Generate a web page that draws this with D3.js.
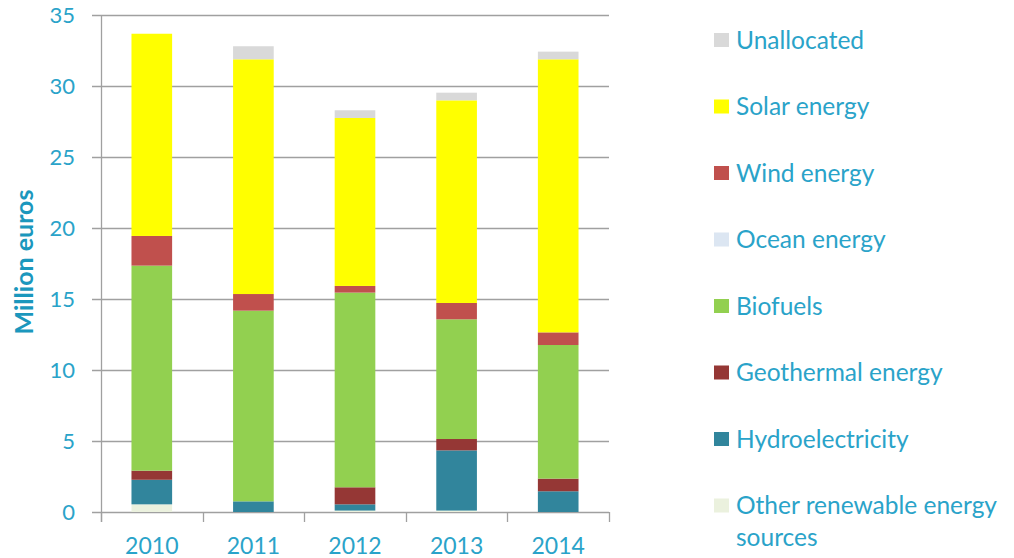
<!DOCTYPE html>
<html>
<head>
<meta charset="utf-8">
<script src="https://cdn.jsdelivr.net/npm/d3@7"></script>
<style>
  body { margin: 0; background: #fff; }
  text { font-family: Lato, "Open Sans", sans-serif; fill: #2aa3c9; }
</style>
</head>
<body>
<div id="chart"></div>
<script>
// data (million euros)
var years = ["2010", "2011", "2012", "2013", "2014"];
var seriesNames = ["Other renewable energy sources", "Hydroelectricity", "Geothermal energy",
  "Biofuels", "Ocean energy", "Wind energy", "Solar energy", "Unallocated"];
var otherRenewable = [0.54, 0, 0.1, 0.1, 0];
var hydro = [1.73, 0.75, 0.44, 4.24, 1.46];
var geothermal = [0.64, 0, 1.2, 0.8, 0.89];
var biofuels = [14.44, 13.43, 13.71, 8.43, 9.41];
var ocean = [0, 0, 0, 0, 0];
var wind = [2.09, 1.17, 0.47, 1.15, 0.89];
var solar = [14.24, 16.53, 11.83, 14.27, 19.23];
var unallocated = [0, 0.92, 0.54, 0.54, 0.54];
var yTicks = [0, 5, 10, 15, 20, 25, 30, 35];

var colors = ["#ebf1de", "#31859c", "#953735", "#92d050", "#dce6f2", "#c0504d", "#ffff00", "#d9d9d9"];
var allSeries = [otherRenewable, hydro, geothermal, biofuels, ocean, wind, solar, unallocated];

var rows = years.map(function(y, i) {
  var r = { year: y };
  seriesNames.forEach(function(n, j) { r[n] = allSeries[j][i]; });
  return r;
});

var width = 1014, height = 558;
var svg = d3.select("#chart").append("svg")
  .attr("width", width)
  .attr("height", height);

var x = d3.scaleBand().domain(years).range([101, 609]).paddingInner(0.6).paddingOuter(0.3);
var y = d3.scaleLinear().domain([0, 35]).range([512, 15]);

// gridlines
svg.append("g").selectAll("line")
  .data(yTicks)
  .enter().append("line")
  .attr("x1", 92).attr("x2", 609)
  .attr("y1", function(d) { return Math.round(y(d)) + 0.5; })
  .attr("y2", function(d) { return Math.round(y(d)) + 0.5; })
  .attr("stroke", "#a0a0a0")
  .attr("stroke-width", 1.3);

// y tick labels
svg.append("g").selectAll("text")
  .data(yTicks)
  .enter().append("text")
  .attr("x", 75)
  .attr("y", function(d) { return y(d); })
  .attr("dy", "0.35em")
  .attr("text-anchor", "end")
  .style("font-size", "22px")
  .text(function(d) { return d; });

// stacked bars
var stack = d3.stack().keys(seriesNames);
var layers = stack(rows);

svg.append("g").selectAll("g")
  .data(layers)
  .enter().append("g")
  .attr("fill", function(d, i) { return colors[i]; })
  .selectAll("rect")
  .data(function(d) { return d; })
  .enter().append("rect")
  .attr("x", function(d) { return x(d.data.year); })
  .attr("width", x.bandwidth())
  .attr("y", function(d) { return y(d[1]); })
  .attr("height", function(d) { return y(d[0]) - y(d[1]); });

// axis lines
svg.append("line")
  .attr("x1", 101.5).attr("x2", 101.5)
  .attr("y1", 15).attr("y2", 522)
  .attr("stroke", "#a0a0a0").attr("stroke-width", 1.3);

var edges = [101].concat(years.map(function(d) { return x(d) + x.bandwidth() + (x.step() - x.bandwidth()) / 2; }));
svg.append("g").selectAll("line")
  .data(edges)
  .enter().append("line")
  .attr("x1", function(d) { return Math.round(d) + 0.5; })
  .attr("x2", function(d) { return Math.round(d) + 0.5; })
  .attr("y1", 512).attr("y2", 522)
  .attr("stroke", "#a0a0a0").attr("stroke-width", 1.3);

// x labels
svg.append("g").selectAll("text")
  .data(years)
  .enter().append("text")
  .attr("x", function(d) { return x(d) + x.bandwidth() / 2; })
  .attr("y", 554)
  .attr("text-anchor", "middle")
  .style("font-size", "23px")
  .text(function(d) { return d; });

// y axis title
svg.append("text")
  .attr("transform", "translate(33,262) rotate(-90)")
  .attr("text-anchor", "middle")
  .attr("font-weight", "bold")
  .style("font-size", "25px")
  .style("fill", "#1b97bd")
  .text("Million euros");

// legend, top to bottom reversed from the stack
var legendOrder = seriesNames.slice().reverse();
var legend = svg.append("g").selectAll("g")
  .data(legendOrder)
  .enter().append("g")
  .attr("transform", function(d, i) { return "translate(714," + (40 + i * 66.5) + ")"; });

legend.append("rect")
  .attr("x", 0).attr("y", -7)
  .attr("width", 15).attr("height", 14)
  .attr("fill", function(d) { return colors[seriesNames.indexOf(d)]; });

legend.append("text")
  .attr("x", 22)
  .attr("dy", "0.35em")
  .style("font-size", "24.5px")
  .each(function(d) {
    var t = d3.select(this);
    if (d == "Other renewable energy sources") {
      t.append("tspan").attr("x", 22).attr("dy", "0.35em").text("Other renewable energy");
      t.append("tspan").attr("x", 22).attr("dy", "1.3em").text("sources");
      t.attr("dy", null);
    } else {
      t.text(d);
    }
  });
</script>
</body>
</html>
